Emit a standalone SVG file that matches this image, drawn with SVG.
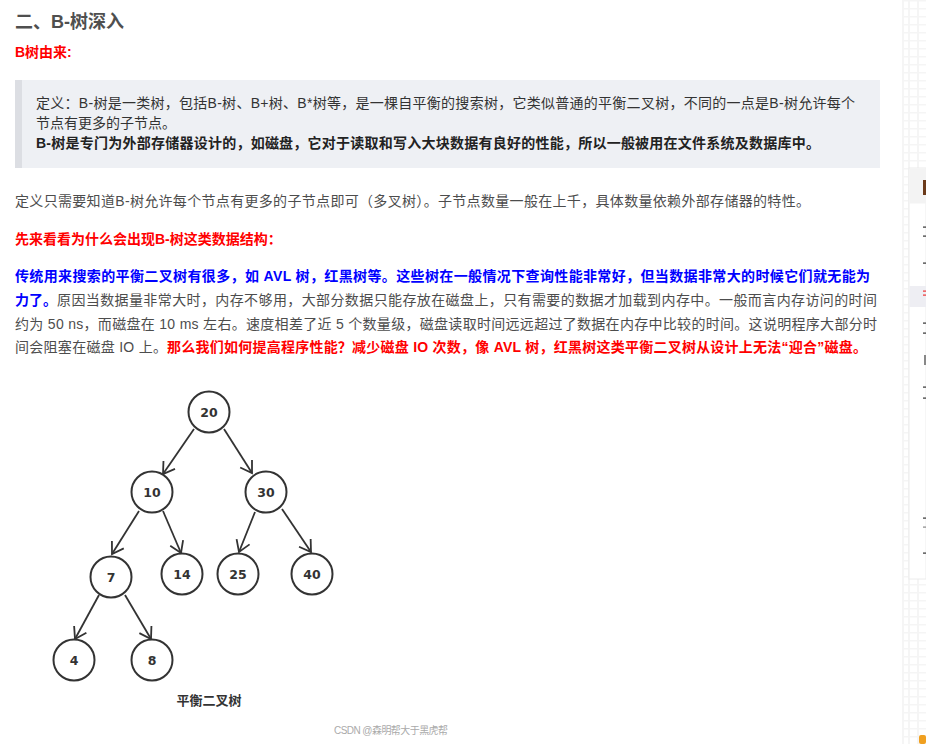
<svg xmlns="http://www.w3.org/2000/svg" width="926" height="744" viewBox="0 0 926 744">
<defs>
<style>
.t{font-family:"Liberation Sans","Noto Sans CJK SC",sans-serif;font-size:14px}
.body{fill:#4d4d4d}
.q{fill:#333}
.qb{fill:#222;font-weight:bold}
.red{fill:#ff0000;font-weight:bold}
.blue{fill:#0000ff;font-weight:bold}
.node circle{fill:#fff;stroke:#333;stroke-width:2}
.node text{font-family:"DejaVu Sans",sans-serif;font-weight:bold;font-size:12.5px;fill:#333;text-anchor:middle}
.edge{stroke:#333;stroke-width:1.8;fill:none;marker-end:url(#arr)}
.mk{fill:#333}
</style>
<marker id="arr" viewBox="-13 -9 15 18" markerWidth="15" markerHeight="18" refX="0" refY="0" orient="auto" markerUnits="userSpaceOnUse">
<path d="M -11 -7 L 0 0 L -11 7" fill="none" stroke="#333" stroke-width="1.8"/>
</marker>
<pattern id="grid" x="902" y="0" width="24" height="8" patternUnits="userSpaceOnUse">
<rect x="0" y="0" width="24" height="8" fill="#fff"/>
<rect x="0" y="0" width="24" height="1.5" fill="#f5f5f5"/>
<rect x="0" y="0" width="2" height="8" fill="#f5f5f5"/>
<rect x="6" y="0" width="2" height="8" fill="#f5f5f5"/>
<rect x="15" y="0" width="2" height="8" fill="#f5f5f5"/>
</pattern>
</defs>
<rect x="0" y="0" width="926" height="744" fill="#fff"/>

<!-- right sidebar -->
<g id="sidebar">
<rect x="902" y="0" width="24" height="744" fill="url(#grid)"/>
<rect x="909" y="168" width="17" height="411" fill="#fff" stroke="#ececec" stroke-width="1"/>
<rect x="909.5" y="168.5" width="16.5" height="35" fill="#f3f3f3"/>
<rect x="923" y="180" width="3" height="15" fill="#6b3a1a"/>
<rect x="909.5" y="286" width="16.5" height="21" fill="#eeeef3"/>
<rect x="923" y="226.5" width="3" height="1.2" class="mk"/>
<rect x="923" y="235.5" width="3" height="1.2" class="mk"/>
<rect x="923" y="262.5" width="3" height="1.2" class="mk"/>
<rect x="923" y="290.5" width="3" height="1.2" fill="#e33"/>
<rect x="923" y="294.5" width="3" height="1.2" fill="#e33"/>
<rect x="923" y="322.5" width="3" height="1.2" class="mk"/>
<rect x="923" y="332.5" width="3" height="1.2" class="mk"/>
<rect x="924" y="355" width="2" height="10" fill="#888"/>
<rect x="923" y="386.5" width="3" height="1.2" class="mk"/>
<rect x="923" y="397.5" width="3" height="1.2" class="mk"/>
<rect x="923" y="517.5" width="3" height="1.2" class="mk"/>
<rect x="923" y="526.5" width="3" height="1.2" fill="#888"/>
<rect x="923" y="552.5" width="3" height="1.2" class="mk"/>
<rect x="919" y="735" width="7" height="9" rx="2" fill="#f0a020"/>
</g>

<!-- article text -->
<g id="heading">
<text x="15" y="28" style="font-family:'Liberation Sans','Noto Sans CJK SC',sans-serif;font-size:18px;font-weight:bold;fill:#4f4f4f">二、B-树深入</text>
<text x="15" y="57" class="t red">B树由来:</text>
</g>

<g id="quote">
<rect x="15" y="80" width="865" height="88" fill="#eef0f4"/>
<rect x="15" y="80" width="7" height="88" fill="#dcdee3"/>
<text x="36" y="108" class="t q" textLength="819" lengthAdjust="spacing">定义：B-树是一类树，包括B-树、B+树、B*树等，是一棵自平衡的搜索树，它类似普通的平衡二叉树，不同的一点是B-树允许每个</text>
<text x="36" y="128" class="t q">节点有更多的子节点。</text>
<text x="36" y="148" class="t qb" textLength="784" lengthAdjust="spacing">B-树是专门为外部存储器设计的，如磁盘，它对于读取和写入大块数据有良好的性能，所以一般被用在文件系统及数据库中。</text>
</g>

<g id="para1">
<text x="15" y="206" class="t body" textLength="795" lengthAdjust="spacing">定义只需要知道B-树允许每个节点有更多的子节点即可（多叉树）。子节点数量一般在上千，具体数量依赖外部存储器的特性。</text>
<text x="15" y="244" class="t red">先来看看为什么会出现B-树这类数据结构：</text>
</g>

<g id="para2">
<text x="15" y="281" class="t blue" textLength="855" lengthAdjust="spacing">传统用来搜索的平衡二叉树有很多，如 AVL 树，红黑树等。这些树在一般情况下查询性能非常好，但当数据非常大的时候它们就无能为</text>
<text x="15" y="305" class="t blue">力了。</text>
<text x="57" y="305" class="t body" textLength="820" lengthAdjust="spacing">原因当数据量非常大时，内存不够用，大部分数据只能存放在磁盘上，只有需要的数据才加载到内存中。一般而言内存访问的时间</text>
<text x="15" y="329" class="t body" textLength="862" lengthAdjust="spacing">约为 50 ns，而磁盘在 10 ms 左右。速度相差了近 5 个数量级，磁盘读取时间远远超过了数据在内存中比较的时间。这说明程序大部分时</text>
<text x="15" y="352" class="t body" textLength="152" lengthAdjust="spacing">间会阻塞在磁盘 IO 上。</text>
<text x="167" y="352" class="t red" textLength="700" lengthAdjust="spacing">那么我们如何提高程序性能？减少磁盘 IO 次数，像 AVL 树，红黑树这类平衡二叉树从设计上无法“迎合”磁盘。</text>
</g>

<!-- tree connectors -->
<g id="connectors">
<line class="edge" x1="194" y1="429" x2="163" y2="474"/>
<line class="edge" x1="224" y1="429" x2="252" y2="473"/>
<line class="edge" x1="139" y1="511" x2="112" y2="554"/>
<line class="edge" x1="163" y1="511" x2="181" y2="553"/>
<line class="edge" x1="255" y1="512" x2="239" y2="552"/>
<line class="edge" x1="282" y1="509" x2="311" y2="552"/>
<line class="edge" x1="99" y1="595" x2="75" y2="639"/>
<line class="edge" x1="125" y1="595" x2="151" y2="639"/>
</g>

<g id="n20" class="node"><circle cx="209" cy="412" r="20.5"/><text x="209" y="416.5">20</text></g>
<g id="n10" class="node"><circle cx="152" cy="492" r="20.5"/><text x="152" y="496.5">10</text></g>
<g id="n30" class="node"><circle cx="266" cy="492" r="20.5"/><text x="266" y="496.5">30</text></g>
<g id="n7" class="node"><circle cx="111" cy="577" r="20.5"/><text x="111" y="581.5">7</text></g>
<g id="n14" class="node"><circle cx="182" cy="574" r="20.5"/><text x="182" y="578.5">14</text></g>
<g id="n25" class="node"><circle cx="238" cy="574" r="20.5"/><text x="238" y="578.5">25</text></g>
<g id="n40" class="node"><circle cx="312" cy="574" r="20.5"/><text x="312" y="578.5">40</text></g>
<g id="n4" class="node"><circle cx="74" cy="660" r="20.5"/><text x="74" y="664.5">4</text></g>
<g id="n8" class="node"><circle cx="152" cy="660" r="20.5"/><text x="152" y="664.5">8</text></g>

<g id="caption">
<text x="209" y="705" text-anchor="middle" style="font-family:'Liberation Sans','Noto Sans CJK SC',sans-serif;font-size:13px;font-weight:bold;fill:#333">平衡二叉树</text>
</g>
<g id="watermark">
<text x="334" y="734" textLength="114" lengthAdjust="spacing" style="font-family:'Liberation Sans','Noto Sans CJK SC',sans-serif;font-size:10px;fill:#aaa">CSDN @森明帮大于黑虎帮</text>
</g>
</svg>
